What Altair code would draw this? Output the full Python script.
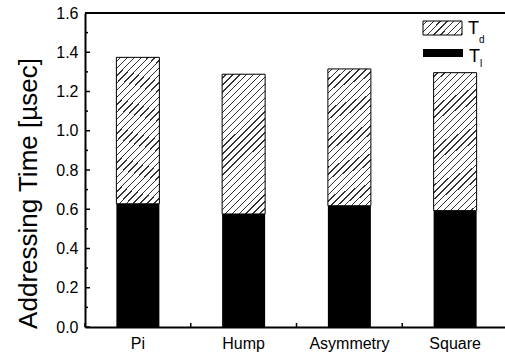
import math
import altair as alt
import pandas as pd

# ---- data ----
categories = ["Pi", "Hump", "Asymmetry", "Square"]
t_l = [0.628, 0.576, 0.618, 0.593]   # black (T_l)
t_d = [0.746, 0.712, 0.697, 0.703]   # hatched (T_d)
y_major = [0.0, 0.2, 0.4, 0.6, 0.8, 1.0, 1.2, 1.4, 1.6]
y_minor = [0.1, 0.3, 0.5, 0.7, 0.9, 1.1, 1.3, 1.5]

df = pd.DataFrame({"cat": categories, "tl": t_l, "td": t_d})
df["total"] = df["tl"] + df["td"]

FONT = "Liberation Sans"
W, H = 420, 314


def hatch(w, h, period_px=4.9, frac=0.2, color="#333333"):
    r = h / w
    a = (1 + r) / (1 + r * r)
    n = ((w + h) / math.sqrt(2)) / period_px
    stops = [alt.GradientStop(offset=0, color="white")]
    i = 0
    while True:
        s = (i + 0.5) / n
        e = (i + 0.5 + frac) / n
        if s >= 1:
            break
        e = min(e, 1.0)
        stops += [alt.GradientStop(offset=s, color="white"),
                  alt.GradientStop(offset=s, color=color),
                  alt.GradientStop(offset=e, color=color),
                  alt.GradientStop(offset=e, color="white")]
        i += 1
    stops.append(alt.GradientStop(offset=1, color="white"))
    return alt.LinearGradient(gradient="linear", stops=stops,
                              x1=0, y1=0, x2=a, y2=a * r)


xscale = alt.Scale(domain=categories, range=[0, 423], paddingInner=0, paddingOuter=0)
yscale = alt.Scale(domain=[0, 1.6], nice=False)

xaxis = alt.Axis(labelFont=FONT, labelFontSize=16, labelColor="black",
                 labelAngle=0, ticks=False, tickSize=0, labelPadding=8,
                 domainColor="black", domainWidth=2, grid=False)
yaxis = alt.Axis(values=y_major, format=".1f", labelFont=FONT,
                 labelFontSize=16, labelColor="black", ticks=False,
                 tickSize=0, labelPadding=7, labelOverlap=False,
                 labelFlush=False, labelBound=False, domainColor="black",
                 domainWidth=2, grid=False, titleFont=FONT,
                 titleFontSize=26, titleFontWeight="normal",
                 titleColor="black", titleAngle=270,
                 titleAlign="center", titleBaseline="alphabetic",
                 titleX=-49, titleY=180)
YTITLE = "Addressing Time [\u00b5sec]"


def X(bandpos=None):
    if bandpos is None:
        return alt.X("cat:N", scale=xscale, sort=categories, title=None, axis=xaxis)
    return alt.X("cat:N", scale=xscale, sort=categories, title=None, axis=xaxis,
                 bandPosition=bandpos)


def Y(field):
    return alt.Y(field, scale=yscale, title=YTITLE, axis=yaxis)


base = alt.Chart(df)

black = base.mark_bar(size=43, color="black").encode(x=X(), y=Y("tl:Q"))

hatched = base.mark_bar(size=43, fill=hatch(43, 140), stroke="black",
                        strokeWidth=1).encode(x=X(), y=Y("tl:Q"), y2="total:Q")

ymaj = alt.Chart(pd.DataFrame({"v": y_major})).mark_rule(color="black", strokeWidth=1.5).encode(
    y=Y("v:Q"), x=alt.value(0), x2=alt.value(5))
ymin = alt.Chart(pd.DataFrame({"v": y_minor})).mark_rule(color="black", strokeWidth=1.5).encode(
    y=Y("v:Q"), x=alt.value(0), x2=alt.value(3))
xtk = base.mark_rule(color="black", strokeWidth=1.5).encode(
    x=X(0), y=alt.value(H), y2=alt.value(H - 4))

one = alt.Chart(pd.DataFrame({"k": [0]}))
top_line = one.mark_rule(color="black", strokeWidth=2).encode(
    x=alt.value(0), x2=alt.value(430), y=alt.value(0))

leg_hatch = one.mark_rect(fill=hatch(40, 14), stroke="black",
                          strokeWidth=1).encode(
    x=alt.value(338), x2=alt.value(377), y=alt.value(8), y2=alt.value(22))
leg_black = one.mark_rect(color="black").encode(
    x=alt.value(338), x2=alt.value(378), y=alt.value(36), y2=alt.value(44))


def txt(s, x, y, size):
    return one.mark_text(text=s, font=FONT, fontSize=size, color="black",
                         fill="black", align="left",
                         baseline="alphabetic").encode(
        x=alt.value(x), y=alt.value(y))


labels = (txt("T", 383, 21, 18) + txt("d", 394, 30, 10)
          + txt("T", 384, 49, 18) + txt("l", 395, 54, 10))

chart = alt.layer(black, hatched, ymaj, ymin, xtk, top_line,
                  leg_hatch, leg_black, labels).properties(
    width=W, height=H,
    autosize=alt.AutoSizeParams(type="none"),
    padding={"left": 85, "top": 13, "right": 0, "bottom": 25},
).configure_view(stroke=None).configure_axis(labelOverlap=False)

chart.save("out.html", embed_options={"renderer": "svg", "actions": False})
